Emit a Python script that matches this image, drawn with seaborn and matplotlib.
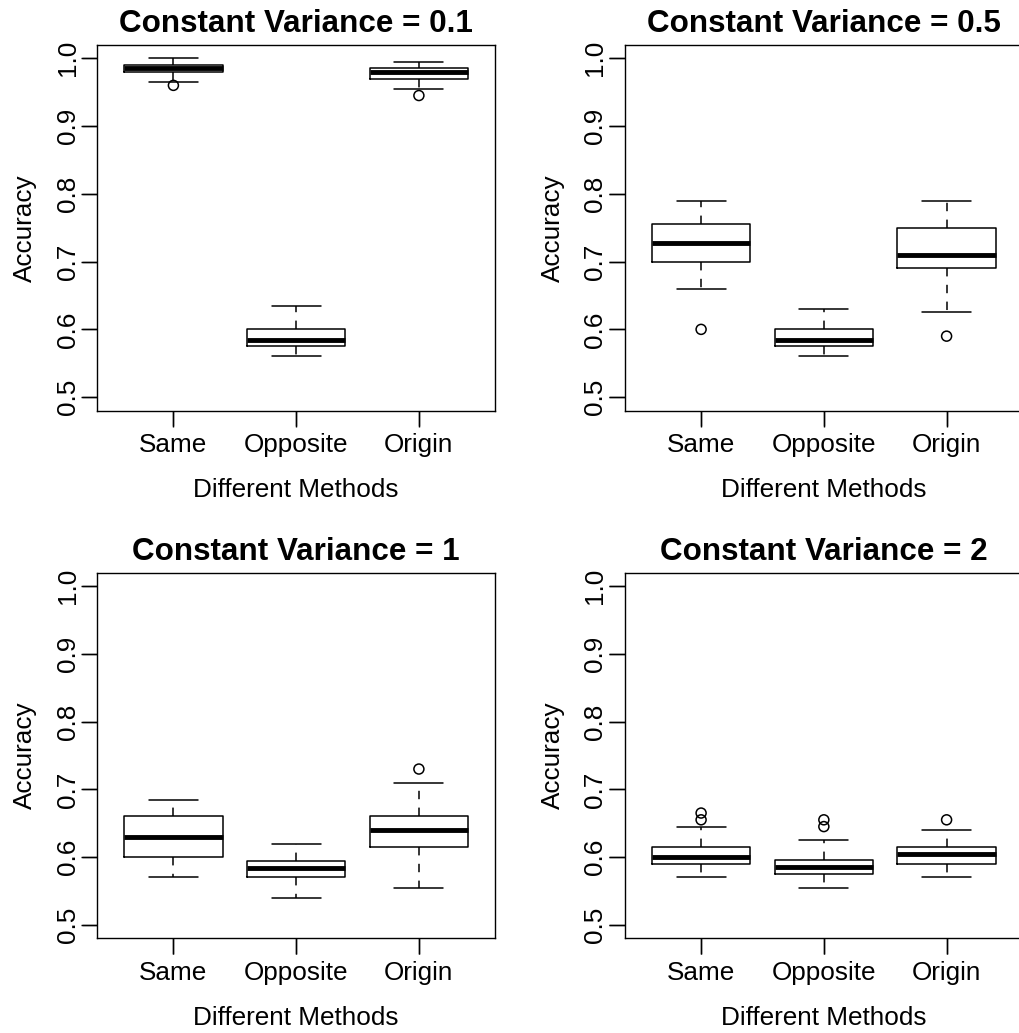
import numpy as np
import pandas as pd
import matplotlib
matplotlib.use("Agg")
import matplotlib.pyplot as plt
import seaborn as sns

# ---------------- data ----------------
methods = ["Same", "Opposite", "Origin"]
titles = ["Constant Variance = 0.1", "Constant Variance = 0.5",
          "Constant Variance = 1", "Constant Variance = 2"]
yticks = [0.5, 0.6, 0.7, 0.8, 0.9, 1.0]
ytick_labels = ["0.5", "0.6", "0.7", "0.8", "0.9", "1.0"]

# Constant variance = 0.1
v01_low = [0.965, 0.560, 0.955]
v01_q1 = [0.980, 0.5755, 0.969]
v01_med = [0.985, 0.585, 0.979]
v01_q3 = [0.990, 0.600, 0.985]
v01_high = [1.000, 0.635, 0.995]
v01_out_method = ["Same", "Origin"]
v01_out_value = [0.960, 0.945]

# Constant variance = 0.5
v05_low = [0.660, 0.560, 0.625]
v05_q1 = [0.700, 0.5755, 0.690]
v05_med = [0.728, 0.585, 0.710]
v05_q3 = [0.755, 0.600, 0.750]
v05_high = [0.790, 0.630, 0.790]
v05_out_method = ["Same", "Origin"]
v05_out_value = [0.600, 0.590]

# Constant variance = 1
v1_low = [0.570, 0.540, 0.555]
v1_q1 = [0.600, 0.570, 0.615]
v1_med = [0.630, 0.584, 0.640]
v1_q3 = [0.660, 0.594, 0.660]
v1_high = [0.685, 0.620, 0.710]
v1_out_method = ["Origin"]
v1_out_value = [0.730]

# Constant variance = 2
v2_low = [0.570, 0.555, 0.570]
v2_q1 = [0.590, 0.575, 0.590]
v2_med = [0.600, 0.585, 0.605]
v2_q3 = [0.615, 0.595, 0.615]
v2_high = [0.645, 0.625, 0.640]
v2_out_method = ["Same", "Same", "Opposite", "Opposite", "Origin"]
v2_out_value = [0.665, 0.655, 0.655, 0.645, 0.655]

panels = [
    (v01_low, v01_q1, v01_med, v01_q3, v01_high, v01_out_method, v01_out_value),
    (v05_low, v05_q1, v05_med, v05_q3, v05_high, v05_out_method, v05_out_value),
    (v1_low, v1_q1, v1_med, v1_q3, v1_high, v1_out_method, v1_out_value),
    (v2_low, v2_q1, v2_med, v2_q3, v2_high, v2_out_method, v2_out_value),
]

# ---------------- style ----------------
sns.set_theme(style="white")
plt.rcParams["font.family"] = ["Liberation Sans", "DejaVu Sans"]
plt.rcParams.update({
    "axes.linewidth": 1.0,
    "axes.edgecolor": "black",
    "text.color": "black",
    "axes.labelcolor": "black",
})

W, H = 1020, 1033
fig = plt.figure(figsize=(W / 100, H / 100), dpi=100)


def rect(left, top, right, bottom):
    return [left / W, 1 - bottom / H, (right - left) / W, (bottom - top) / H]


rects = [rect(97.3, 44.7, 495, 410.7), rect(625, 44.7, 1022.7, 410.7),
         rect(97.3, 572.7, 495, 938.3), rect(625, 572.7, 1022.7, 938.3)]

FS = 18.8
line_w = 1.1
TICK_LEN = 11.2          # points
TICK_PX = TICK_LEN * 100 / 72.0

for (low, q1, med, q3, high, out_m, out_v), title, r in zip(panels, titles, rects):
    ax = fig.add_axes(r)
    rows = []
    for i, m in enumerate(methods):
        for v in (low[i], q1[i], med[i], q3[i], high[i]):
            rows.append({"Method": m, "Accuracy": v})
    df = pd.DataFrame(rows)
    sns.boxplot(data=df, x="Method", y="Accuracy", order=methods, ax=ax,
                fill=False, color="black", width=0.8, whis=(0, 100),
                showfliers=False, linewidth=line_w,
                boxprops={"color": "black", "linewidth": line_w},
                medianprops={"color": "black", "linewidth": 3.5,
                             "solid_capstyle": "butt"},
                whiskerprops={"color": "black", "linewidth": line_w,
                              "linestyle": (0, (5.5, 5.5))},
                capprops={"color": "black", "linewidth": line_w})
    odf = pd.DataFrame({"Method": out_m, "Accuracy": out_v})
    sns.stripplot(data=odf, x="Method", y="Accuracy", order=methods, ax=ax,
                  jitter=False, color="black", size=7.2, marker="o",
                  linewidth=1.0, edgecolor="black")
    for coll in ax.collections:
        coll.set_facecolor("none")
        coll.set_edgecolor("black")
        coll.set_linewidth(1.1)

    ax.set_yticks(yticks)
    ax.set_yticklabels(ytick_labels, fontsize=FS, rotation=90, va="center",
                       color="black")
    ax.set_xticks(range(len(methods)))
    ax.set_xticklabels(methods, fontsize=FS, color="black")
    ax.set_xlabel("Different Methods", fontsize=FS, labelpad=15, color="black")
    ax.set_ylabel("Accuracy", fontsize=FS, labelpad=13.5, color="black")
    ax.set_title(title, fontsize=22.6, fontweight="bold", pad=9.0,
                 color="black")
    for s in ax.spines.values():
        s.set_visible(True)
        s.set_color("black")
        s.set_linewidth(1.0)
    ax.tick_params(axis="both", which="major", direction="out",
                   length=TICK_LEN, width=1.0, color="black",
                   bottom=True, left=True, top=False, right=False)
    ax.tick_params(axis="x", pad=5)
    ax.tick_params(axis="y", pad=1.5)

    # outward tick marks at the axis tick locations (axes-fraction lengths)
    dy = TICK_PX / (r[3] * H)
    dx = TICK_PX / (r[2] * W)
    for xt in ax.get_xticks():
        ax.plot([xt, xt], [0, -dy], transform=ax.get_xaxis_transform(),
                color="black", lw=1.0, clip_on=False, zorder=10,
                solid_capstyle="butt")
    for yt in ax.get_yticks():
        ax.plot([0, -dx], [yt, yt], transform=ax.get_yaxis_transform(),
                color="black", lw=1.0, clip_on=False, zorder=10,
                solid_capstyle="butt")

    ax.set_xlim(-0.62, 2.62)
    ax.set_ylim(0.48, 1.02)
    ax.grid(False)

fig.savefig("out.png", dpi=100, facecolor="white")
